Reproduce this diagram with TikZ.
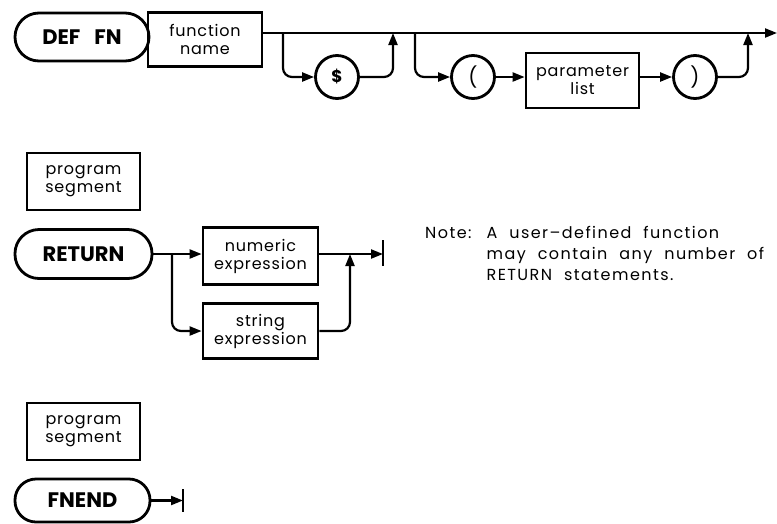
\documentclass[tikz,border=0pt]{standalone}
\usepackage{fontspec}
\setmainfont{Poppins}
\newfontfamily\lightfont[LetterSpace=5]{Poppins}
\newfontfamily\notefont[LetterSpace=9]{Poppins}
\usetikzlibrary{arrows.meta}
\newcommand\wgap{\hspace{12pt}}
\begin{document}
\begin{tikzpicture}[x=1pt,y=-1pt,
  conn/.style={line width=2.2pt},
  arr/.style={conn,-{Triangle[length=12pt,width=9pt]}},
  rnd/.style={rounded corners=9pt},
  box/.style={draw,line width=2.8pt,rectangle,inner sep=0pt,align=center,
    font=\fontsize{16}{18}\lightfont},
  term/.style={draw,line width=2.8pt,rectangle,inner sep=0pt,align=center,
    font=\fontsize{21}{23}\selectfont\bfseries},
  ring/.style={draw,line width=2.8pt,circle,inner sep=0pt,minimum size=43pt,
    font=\fontsize{20}{22}\selectfont},
  bar/.style={line width=2.4pt}]
\useasboundingbox (0,0) rectangle (777,523);
% ---------- DEF FN ----------
\node[term,rounded corners=24pt,minimum width=134pt,minimum height=48pt] (defn) at (82,37) {DEF\hspace{14pt}FN};
\node[box,minimum width=114pt,minimum height=54pt] (fname) at (205,39.5) {function\\name};
\node[ring,font=\fontsize{17}{20}\selectfont\bfseries] (dollar) at (337,77) {\$};
\node[ring] (lpar) at (473,77) {(};
\node[box,minimum width=113pt,minimum height=55pt] (plist) at (582.5,80.5) {parameter\\list};
\node[ring] (rpar) at (695,77) {)};
\coordinate (m0) at (262,33);
\coordinate (b1) at (283,33);
\coordinate (j1) at (393,33);
\coordinate (b2) at (415,33);
\coordinate (j2) at (748,33);
\coordinate (mend) at (777,33);
\draw[arr] (m0) -- (mend);
\draw[arr,rnd] (b1) |- (dollar.west);
\draw[arr,rnd] (dollar.east) -| (j1);
\draw[arr,rnd] (b2) |- (lpar.west);
\draw[arr] (lpar.east) -- (lpar.east -| plist.west);
\draw[arr] (plist.east |- rpar.west) -- (rpar.west);
\draw[arr,rnd] (rpar.east) -| (j2);
% ---------- RETURN ----------
\node[box,minimum width=113pt,minimum height=57pt] (pseg1) at (83.5,181.5) {program\\segment};
\node[term,rounded corners=24pt,minimum width=137pt,minimum height=49pt] (ret) at (83.5,254) {RETURN};
\node[box,minimum width=115pt,minimum height=57pt] (num) at (260.5,256) {numeric\\expression};
\node[box,minimum width=115pt,minimum height=55pt] (str) at (260.5,331) {string\\expression};
\coordinate (rb) at (172,254);
\coordinate (rj) at (350,254);
\coordinate (rend) at (383,254);
\coordinate (rbt) at (383,240);
\coordinate (rbb) at (383,266);
\draw[arr] (ret.east) -- (ret.east -| num.west);
\draw[arr,rnd] (rb) |- (str.west);
\draw[arr,rnd] (str.east) -| (rj);
\draw[arr] (num.east |- rend) -- (rend);
\draw[bar] (rbt) -- (rbb);
% ---------- Note ----------
\node[anchor=base west,inner sep=0pt,font=\fontsize{16}{21}\notefont] (note) at (425,238)
  {\begin{tabular}[t]{@{}l@{\hspace{15pt}}l@{}}Note: & A\wgap user\textendash defined\wgap function\\ & may\wgap contain\wgap any\wgap number\wgap of\\ & RETURN\hspace{12pt}statements.\end{tabular}};
% ---------- FNEND ----------
\node[box,minimum width=113pt,minimum height=57pt] (pseg2) at (83.5,431.5) {program\\segment};
\node[term,rounded corners=21pt,minimum width=135pt,minimum height=43pt] (fnend) at (82.5,500.5) {FNEND};
\coordinate (fend) at (183,500.5);
\coordinate (fbt) at (183,489);
\coordinate (fbb) at (183,512);
\draw[arr] (fnend.east) -- (fend);
\draw[bar] (fbt) -- (fbb);
\end{tikzpicture}
\end{document}
